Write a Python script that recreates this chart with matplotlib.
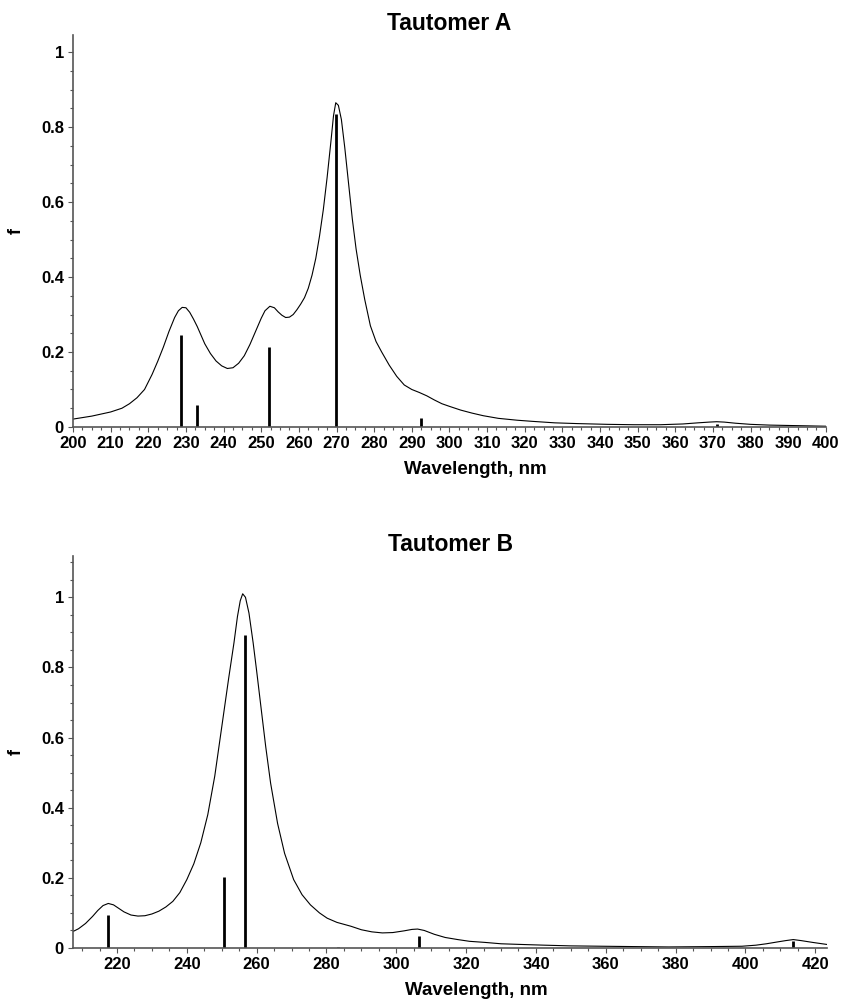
import matplotlib
matplotlib.use('Agg')
import matplotlib.pyplot as plt
from matplotlib.ticker import MultipleLocator, FuncFormatter

plt.rcParams['font.family'] = ['Liberation Sans', 'DejaVu Sans']
plt.rcParams['font.weight'] = 'bold'

# Tautomer A: envelope (wavelength, f)
curva_a = [(200, 0.021), (205, 0.029), (210, 0.040), (213, 0.050), (215, 0.062),
           (217, 0.078), (219, 0.100), (221, 0.140), (222.5, 0.175), (224, 0.213),
           (225.5, 0.255), (227, 0.292), (228, 0.310), (229, 0.319), (230, 0.318),
           (231, 0.306), (232, 0.288), (233, 0.268), (234, 0.245), (235, 0.222),
           (236.5, 0.196), (238, 0.176), (239.5, 0.163), (241, 0.156), (242.5, 0.158),
           (244, 0.170), (245.5, 0.190), (247, 0.220), (248.5, 0.255), (250, 0.290),
           (251, 0.310), (252.3, 0.322), (253.5, 0.318), (254.5, 0.307), (255.5, 0.298),
           (256.5, 0.292), (257.5, 0.293), (258.5, 0.300), (259.5, 0.313), (260.5, 0.328),
           (261.5, 0.345), (262.5, 0.370), (263.5, 0.405), (264.5, 0.450), (265.5, 0.510),
           (266.5, 0.580), (267.5, 0.665), (268.5, 0.760), (269.2, 0.830), (269.8, 0.865),
           (270.5, 0.858), (271.3, 0.820), (272.2, 0.745), (273.2, 0.650), (274.2, 0.555),
           (275.2, 0.475), (276.3, 0.405), (277.5, 0.340), (279, 0.270), (280.5, 0.228),
           (282, 0.200), (284, 0.165), (286, 0.135), (288, 0.112), (290, 0.100),
           (292, 0.092), (294, 0.083), (296, 0.072), (298, 0.062), (300, 0.055),
           (303, 0.045), (306, 0.037), (309, 0.030), (313, 0.023), (318, 0.018),
           (322, 0.015), (328, 0.011), (334, 0.009), (342, 0.007), (349, 0.006),
           (356, 0.006), (362, 0.008), (366, 0.011), (369, 0.013), (371, 0.014),
           (373, 0.013), (376, 0.010), (380, 0.007), (385, 0.005), (390, 0.004),
           (400, 0.002)]
onda_a = [p[0] for p in curva_a]
f_a = [p[1] for p in curva_a]
barras_a_x = [228.7, 232.9, 252.0, 269.8, 292.5, 371.0]
barras_a_f = [0.245, 0.058, 0.212, 0.835, 0.024, 0.008]

# Tautomer B
curva_b = [(207.4, 0.047), (209, 0.055), (211, 0.070), (213, 0.090), (214.5, 0.107),
           (216, 0.121), (217.5, 0.127), (219, 0.123), (220.5, 0.113), (222, 0.103),
           (224, 0.094), (226, 0.091), (228, 0.092), (230, 0.097), (232, 0.105),
           (234, 0.117), (236, 0.133), (238, 0.158), (240, 0.195), (242, 0.240),
           (244, 0.300), (246, 0.380), (248, 0.490), (250, 0.630), (252, 0.770),
           (253.5, 0.870), (254.5, 0.945), (255.3, 0.990), (256, 1.010), (256.8, 1.000),
           (257.8, 0.955), (259, 0.870), (260, 0.790), (261.2, 0.690), (262.6, 0.574),
           (264, 0.470), (266, 0.355), (268, 0.270), (270.6, 0.195), (273, 0.152),
           (275.4, 0.123), (278, 0.100), (280.2, 0.085), (283, 0.073), (287, 0.062),
           (290, 0.052), (293, 0.046), (296, 0.043), (299, 0.044), (302.3, 0.049),
           (304.5, 0.053), (306.1, 0.054), (308, 0.050), (310.9, 0.039), (314, 0.030),
           (317.6, 0.024), (321, 0.019), (325.3, 0.016), (330, 0.012), (336, 0.010),
           (342.5, 0.008), (350, 0.006), (358.8, 0.005), (368, 0.004), (378, 0.003),
           (390, 0.004), (399, 0.005), (403, 0.008), (406, 0.012), (409, 0.017),
           (411.5, 0.021), (413.7, 0.024), (416, 0.021), (419.2, 0.016), (423.4, 0.010)]
onda_b = [p[0] for p in curva_b]
f_b = [p[1] for p in curva_b]
barras_b_x = [217.5, 250.7, 256.8, 283.2, 306.4, 413.7]
barras_b_f = [0.095, 0.203, 0.892, 0.003, 0.035, 0.021]

gris = '#555555'


def formato_f(v, pos):
    if abs(v) < 1e-9:
        return '0'
    if abs(v - 1) < 1e-9:
        return '1'
    return '%.1f' % v


def dibujar(ax, x, y, bx, bf, titulo, xlim, ylim, paso):
    ax.plot(x, y, color='black', lw=0.8)
    ax.vlines(bx, 0, bf, colors='black', lw=2.0)
    ax.set_xlim(*xlim)
    ax.set_ylim(*ylim)
    ax.set_title(titulo, fontsize=16.5, fontweight='bold', pad=0.5)
    # la etiqueta del eje x esta algo corrida a la derecha en el original
    ax.set_xlabel('Wavelength, nm', fontsize=13.5, fontweight='bold', labelpad=7, x=0.535)
    ax.set_ylabel('f', fontsize=13, fontweight='bold', labelpad=12)
    ax.xaxis.set_major_locator(MultipleLocator(paso))
    ax.xaxis.set_minor_locator(MultipleLocator(paso / 4))
    ax.yaxis.set_major_locator(MultipleLocator(0.2))
    ax.yaxis.set_minor_locator(MultipleLocator(0.05))
    ax.yaxis.set_major_formatter(FuncFormatter(formato_f))
    for s in ['top', 'right']:
        ax.spines[s].set_visible(False)
    for s in ['left', 'bottom']:
        ax.spines[s].set_color(gris)
        ax.spines[s].set_linewidth(1.2)
    ax.tick_params(which='both', direction='out', color=gris, width=0.8)
    ax.tick_params(which='major', length=3.5, labelsize=12, pad=3)
    ax.tick_params(which='minor', length=2.5)
    for t in ax.get_xticklabels() + ax.get_yticklabels():
        t.set_fontweight('bold')


fig = plt.figure(figsize=(8.44, 10.07), dpi=100)
ax1 = fig.add_axes([0.0865, 0.576, 0.892, 0.389])
ax2 = fig.add_axes([0.0865, 0.0586, 0.8935, 0.389])

dibujar(ax1, onda_a, f_a, barras_a_x, barras_a_f, 'Tautomer A', (200, 400), (0, 1.045), 10)
dibujar(ax2, onda_b, f_b, barras_b_x, barras_b_f, 'Tautomer B', (207.4, 423.4), (0, 1.117), 20)

fig.savefig('out.png', dpi=100)
